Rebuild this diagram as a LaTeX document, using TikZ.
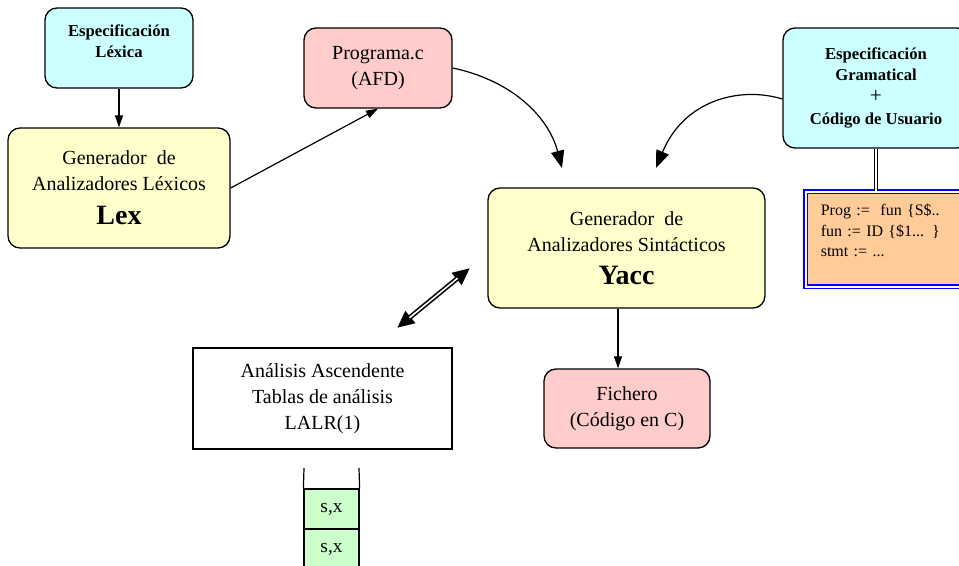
\documentclass[tikz,border=0pt]{standalone}
\usepackage{fontspec}
\setmainfont{Liberation Serif}
\usetikzlibrary{arrows.meta,calc}
\newdimen\pxu \pxu=0.75pt
\definecolor{specfill}{HTML}{CCFFFF}
\definecolor{filefill}{HTML}{FFCCCC}
\definecolor{genfill}{HTML}{FFFFCC}
\definecolor{codefill}{HTML}{FFCC99}
\definecolor{stackfill}{HTML}{CCFFCC}
\newcommand{\plainfont}{\fontsize{15}{19.5}\selectfont}
\newcommand{\titlefont}{\fontsize{12.5}{15.5}\selectfont\bfseries}
\newcommand{\toolfont}{\fontsize{21}{25}\selectfont\bfseries}
% invisible strut that deepens the last line of a node
\newcommand{\lowstrut}[1]{\rule[-#1]{0pt}{#1}}
\begin{document}
\begin{tikzpicture}[x=0.75pt,y=-0.75pt,
  box/.style={draw, line width=1pt, rounded corners=12\pxu, align=center, inner sep=0pt},
  plainbox/.style={draw, line width=0.9pt, align=center, inner sep=0pt},
  cell/.style={draw, line width=0.9pt, fill=stackfill, minimum width=55\pxu, minimum height=40\pxu, inner sep=0pt, font=\fontsize{14.5}{16}\selectfont},
  flow/.style={line width=0.9pt, -{Triangle[length=9pt,width=6pt]}},
  bigflow/.style={line width=0.9pt, -{Triangle[length=13pt,width=10pt]}}
]
\useasboundingbox (0,0) rectangle (959,565);

% inputs and generated files
\node[box, fill=specfill, minimum width=148\pxu, minimum height=80\pxu, font=\titlefont]
  (esplex) at (119,48) {Especificación\\Léxica\lowstrut{10pt}};
\node[box, fill=filefill, minimum width=148\pxu, minimum height=80\pxu, font=\plainfont]
  (prog) at (378,68) {Programa.c\\(AFD)};
\node[box, fill=specfill, minimum width=186\pxu, minimum height=120\pxu, font=\titlefont]
  (gram) at (876,88) {Especificación\\Gramatical\\[1pt]{\mdseries\fontsize{16}{16}\selectfont +}\\[1pt]Código de Usuario};

% generators
\node[box, fill=genfill, minimum width=222\pxu, minimum height=120\pxu, font=\plainfont]
  (lex) at (119,188) {Generador\ \ de\\Analizadores Léxicos\\[6pt]{\toolfont Lex}};
\node[box, fill=genfill, minimum width=277\pxu, minimum height=120\pxu, font=\plainfont]
  (yacc) at (626.5,248) {Generador\ \ de\\Analizadores Sintácticos\\[5pt]{\toolfont Yacc}};

% output file and parse tables
\node[box, fill=filefill, minimum width=166\pxu, minimum height=79\pxu, font=\plainfont]
  (fichero) at (627,408.5) {Fichero\\(Código en C)};
\node[plainbox, fill=white, minimum width=259\pxu, minimum height=101\pxu, font=\plainfont]
  (tablas) at (322.5,398.5) {Análisis Ascendente\\Tablas de análisis\\LALR(1)};

% grammar sample
\node[draw=blue, line width=1.2pt, double=white, double distance=1.3pt, fill=codefill,
  anchor=north west, minimum width=200\pxu, minimum height=95\pxu,
  text width=170\pxu, inner xsep=15\pxu, inner ysep=0pt, align=left,
  font=\fontsize{12}{15.5}\selectfont]
  (code) at (805,191) {Prog :=\ \ fun \{S\$..\\fun := ID \{\$1... \}\\stmt := ...\lowstrut{13.5pt}};

% parser stack
\node[cell] (c1) at (331.5,509) {s,x};
\node[cell] (c2) at (331.5,549) {s,x};
\coordinate (stl) at (304,468);
\coordinate (str) at (359,468);
\draw[line width=0.9pt] (c1.north west) -- (stl);
\draw[line width=0.9pt] (c1.north east) -- (str);

% connectors
\draw[flow] (esplex.south) -- (lex.north);
\draw[flow] (lex.east) -- (prog.south);
\coordinate (ya) at (562,168);
\coordinate (yb) at (656,168);
\coordinate (gs) at ($(gram.west)+(0,11)$);
\draw[bigflow] (prog.east) .. controls (510,80) and (548,115) .. (ya);
\draw[bigflow] (gs) .. controls (740,86) and (684,100) .. (yb);
\draw[flow] ([xshift=-8.5\pxu]yacc.south) -- ([xshift=-9\pxu]fichero.north);
\draw[line width=0.8pt, double=white, double distance=1.3pt] (gram.south) -- (gram.south |- code.north);

% two-way link between the tables and the generator
\coordinate (da) at (397,328);
\coordinate (db) at (470,268);
\draw[line width=3.6pt, {Triangle[length=13pt,width=11pt]}-{Triangle[length=13pt,width=11pt]}] (da) -- (db);
\draw[white, line width=1.2pt, shorten <=12pt, shorten >=12pt] (da) -- (db);
\end{tikzpicture}
\end{document}
